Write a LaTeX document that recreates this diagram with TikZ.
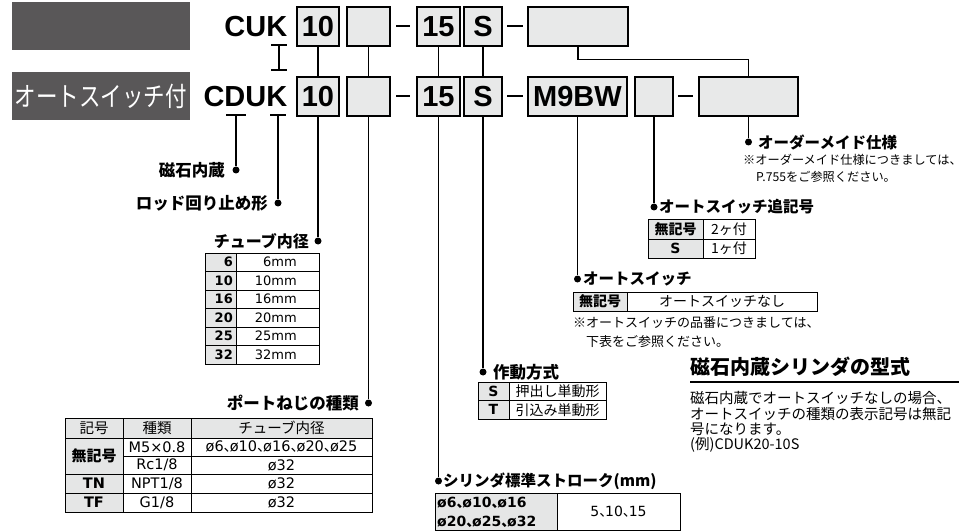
\documentclass[tikz,border=0pt]{standalone}
\usepackage{fontspec}
\setmainfont{DejaVu Sans}
\newfontfamily\jp{Noto Sans CJK JP}
\newfontfamily\hv{Liberation Sans}
\definecolor{dk}{RGB}{89,87,88}
\definecolor{boxg}{RGB}{232,233,233}
\definecolor{cellg}{RGB}{229,230,230}
\newcommand\fsz[1]{\fontsize{#1}{#1}\selectfont}
\newcommand\jc{\makebox[0.42em][l]{\jp 、}}
\begin{document}
\begin{tikzpicture}[x=1pt,y=-1pt,
  codebox/.style={draw=black, line width=1.3pt, fill=boxg, inner sep=0pt, minimum height=39pt, font={\hv\bfseries\fsz{29}}},
  hdrbox/.style={fill=dk, inner sep=0pt, text=white, font={\jp\fsz{21.5}}},
  conn/.style={line width=1.1pt},
  hyph/.style={line width=2.8pt},
  dot/.style={circle, fill=black, inner sep=0pt, minimum size=7pt},
  tx/.style={inner sep=0pt},
  lbl/.style={inner sep=0pt, font={\jp\bfseries\fsz{16.5}}},
  rlbl/.style={inner sep=0pt, font={\jp\bfseries\fsz{15.5}}},
  note/.style={inner sep=0pt, font={\jp\fsz{12.5}}},
  tline/.style={line width=0.7pt},
  touter/.style={line width=1pt},
]
\useasboundingbox (0,0) rectangle (970,532);
\fill[white] (0,0) rectangle (970,532);

% header blocks
\node[hdrbox, minimum width=178pt, minimum height=48pt] (hdr1) at (101,26) {};
\node[hdrbox, minimum width=178pt, minimum height=48pt] (hdr2) at (101,96) {\scalebox{1}[1.25]{オートスイッチ付}};

% codes
\node[tx, anchor=base east, font={\hv\bfseries\fsz{29}}] (cuk) at (287.5,37) {CUK};
\node[tx, anchor=base east, font={\hv\bfseries\fsz{29}}] (cduk) at (287.5,107) {CDUK};

% row 1 boxes
\node[codebox, minimum width=42pt] (a10) at (318,26.5) {10};
\node[codebox, minimum width=43pt] (ae) at (368.5,26.5) {};
\node[codebox, minimum width=43pt] (a15) at (438.5,26.5) {15};
\node[codebox, minimum width=38pt] (aS) at (483,26.5) {S};
\node[codebox, minimum width=100pt] (aX) at (578,26.5) {};
% row 2 boxes
\node[codebox, minimum width=42pt] (b10) at (318,96.5) {10};
\node[codebox, minimum width=43pt] (be) at (368.5,96.5) {};
\node[codebox, minimum width=43pt] (b15) at (438.5,96.5) {15};
\node[codebox, minimum width=38pt] (bS) at (483,96.5) {S};
\node[codebox, minimum width=99pt] (bM) at (577.5,96.5) {M9BW};
\node[codebox, minimum width=38pt] (bSm) at (654,96.5) {};
\node[codebox, minimum width=99pt] (bL) at (748.5,96.5) {};

% hyphens
\coordinate (h1a) at (396,26); \coordinate (h1b) at (410,26);
\coordinate (h2a) at (507,26); \coordinate (h2b) at (523,26);
\coordinate (h3a) at (396,96); \coordinate (h3b) at (410,96);
\coordinate (h4a) at (507,96); \coordinate (h4b) at (523,96);
\coordinate (h5a) at (678,96); \coordinate (h5b) at (693,96);
\foreach \hh in {1,...,5} {\draw[hyph] (h\hh a) -- (h\hh b);}

% links between rows
\coordinate (kt) at (279,45); \coordinate (kb) at (279,70);
\draw[conn] (kt) -- (kb);
\draw[conn] ([xshift=-8pt]kt) -- ([xshift=8pt]kt);
\draw[conn] ([xshift=-8pt]kb) -- ([xshift=8pt]kb);
\draw[conn] (a10.south) -- (b10.north);
\draw[conn] (ae.south) -- (be.north);
\draw[conn] (a15.south) -- (b15.north);
\draw[conn] (aS.south) -- (bS.north);
\draw[conn] (aX.south) -- ++(0,13) -| (bL.north);

% dots
\node[dot] (dMag) at (236,170) {};
\node[dot] (dRod) at (278,203) {};
\node[dot] (dTube) at (318,241) {};
\node[dot] (dPort) at (368.5,403) {};
\node[dot] (dStroke) at (438.5,481) {};
\node[dot] (dAct) at (483,372) {};
\node[dot] (dSw) at (577.5,279) {};
\node[dot] (dSfx) at (654,207) {};
\node[dot] (dMade) at (748.5,142) {};

% below CDUK
\coordinate (dd) at (236,115);
\draw[conn] ([xshift=-10pt]dd) -- ([xshift=10pt]dd);
\draw[conn] (dd) -- (dMag);
\coordinate (kk) at (278,115);
\draw[conn] ([xshift=-8pt]kk) -- ([xshift=8pt]kk);
\draw[conn] (kk) -- (dRod);
\draw[conn] (b10.south) -- (dTube);
\draw[conn] (be.south) -- (dPort);
\draw[conn] (b15.south) -- (dStroke);
\draw[conn] (bS.south) -- (dAct);
\draw[conn] (bM.south) -- (dSw);
\draw[conn] (bSm.south) -- (dSfx);
\draw[conn] (bL.south) -- (dMade);

% labels
\node[lbl, anchor=east] (tMag) at (225,170) {磁石内蔵};
\node[lbl, anchor=east] (tRod) at (268,203) {ロッド回り止め形};
\node[lbl, anchor=east, font={\jp\bfseries\fsz{16}}] (tTube) at (309,241) {チューブ内径};
\node[lbl, anchor=east] (tPort) at (359,403) {ポートねじの種類};
\node[rlbl, anchor=west] (tStroke) at (443,481) {シリンダ標準ストローク(mm)};
\node[lbl, anchor=west] (tAct) at (493,372) {作動方式};
\node[rlbl, anchor=west] (tSw) at (583,279) {オートスイッチ};
\node[rlbl, anchor=west] (tSfx) at (659,207) {オートスイッチ追記号};
\node[rlbl, anchor=west] (tMade) at (758,142) {オーダーメイド仕様};

% notes
\node[note, anchor=west, font={\jp\fsz{12.2}}] (nMade1) at (743,160) {※オーダーメイド仕様につきましては、};
\node[note, anchor=west, font={\jp\fsz{12.2}}] (nMade2) at (756,177) {P.755をご参照ください。};
\node[note, anchor=west, font={\jp\fsz{13}}] (nSw1) at (573,323) {※オートスイッチの品番につきましては、};
\node[note, anchor=west, font={\jp\fsz{13}}] (nSw2) at (586,342) {下表をご参照ください。};

% tube table
\fill[cellg] (205,253) rectangle (236,364);
\draw[touter] (205,253) rectangle (319,364);
\draw[tline] (236,253) -- (236,364);
\foreach \k in {1,...,5} {\draw[tline] (205,253+18.5*\k) -- (319,253+18.5*\k);}
\foreach \val [count=\i] in {6,10,16,20,25,32} {
  \node[tx, anchor=east, font={\bfseries\fsz{13}}] (tubek\i) at (233,253+18.5*\i-9.25) {\val};
  \node[tx, anchor=east, font={\fsz{13}}] (tubev\i) at (297,253+18.5*\i-9.25) {\val mm};
}

% port table
\fill[cellg] (65,418) rectangle (372,438);
\fill[cellg] (65,438) rectangle (123,512);
\draw[touter] (65,418) rectangle (372,512);
\draw[tline] (123,418) -- (123,512);
\draw[tline] (191,418) -- (191,512);
\draw[tline] (65,438) -- (372,438);
\draw[tline] (123,456) -- (372,456);
\draw[tline] (65,474) -- (372,474);
\draw[tline] (65,493) -- (372,493);
\node[tx, font={\jp\fsz{14.5}}] (ph1) at (94,428) {記号};
\node[tx, font={\jp\fsz{14.5}}] (ph2) at (157,428) {種類};
\node[tx, font={\jp\fsz{14.5}}] (ph3) at (281.5,428) {チューブ内径};
\node[tx, font={\jp\bfseries\fsz{15}}] (pk1) at (94,456) {無記号};
\node[tx, font={\fsz{14.5}}] (pt1) at (157,447) {M5×0.8};
\node[tx, font={\fsz{14.5}}] (pd1) at (281.5,447) {ø6\jc ø10\jc ø16\jc ø20\jc ø25};
\node[tx, font={\fsz{14.5}}] (pt2) at (157,465) {Rc1/8};
\node[tx, font={\fsz{14.5}}] (pd2) at (281.5,465) {ø32};
\node[tx, font={\bfseries\fsz{14.5}}] (pk3) at (94,483.5) {TN};
\node[tx, font={\fsz{14.5}}] (pt3) at (157,483.5) {NPT1/8};
\node[tx, font={\fsz{14.5}}] (pd3) at (281.5,483.5) {ø32};
\node[tx, font={\bfseries\fsz{14.5}}] (pk4) at (94,502.5) {TF};
\node[tx, font={\fsz{14.5}}] (pt4) at (157,502.5) {G1/8};
\node[tx, font={\fsz{14.5}}] (pd4) at (281.5,502.5) {ø32};

% action table
\fill[cellg] (478,382) rectangle (509,419);
\draw[touter] (478,382) rectangle (606,419);
\draw[tline] (509,382) -- (509,419);
\draw[tline] (478,400.5) -- (606,400.5);
\node[tx, font={\bfseries\fsz{14}}] (ak1) at (493.5,391.25) {S};
\node[tx, font={\bfseries\fsz{14}}] (ak2) at (493.5,409.75) {T};
\node[tx, font={\jp\fsz{14}}] (av1) at (557.5,391.25) {押出し単動形};
\node[tx, font={\jp\fsz{14}}] (av2) at (557.5,409.75) {引込み単動形};

% stroke table
\fill[cellg] (435,493) rectangle (557,530);
\draw[touter] (435,493) rectangle (680,530);
\draw[tline] (557,493) -- (557,530);
\node[tx, anchor=west, font={\bfseries\fsz{14}}] (sk1) at (437,503) {ø6\jc ø10\jc ø16};
\node[tx, anchor=west, font={\bfseries\fsz{14}}] (sk2) at (437,521.5) {ø20\jc ø25\jc ø32};
\node[tx, font={\fsz{14}}] (sv) at (618.5,511.5) {5\jc 10\jc 15};

% suffix table
\fill[cellg] (648,220) rectangle (703,258);
\draw[touter] (648,220) rectangle (755,258);
\draw[tline] (703,220) -- (703,258);
\draw[tline] (648,239) -- (755,239);
\node[tx, font={\jp\bfseries\fsz{14}}] (fk1) at (675.5,229.5) {無記号};
\node[tx, font={\bfseries\fsz{14}}] (fk2) at (675.5,248.5) {S};
\node[tx, font={\jp\fsz{14}}] (fv1) at (729,229.5) {2ヶ付};
\node[tx, font={\jp\fsz{14}}] (fv2) at (729,248.5) {1ヶ付};

% switch table
\fill[cellg] (573,292) rectangle (627,311);
\draw[touter] (573,292) rectangle (817,311);
\draw[tline] (627,292) -- (627,311);
\node[tx, font={\jp\bfseries\fsz{14}}] (wk1) at (600,301.5) {無記号};
\node[tx, font={\jp\fsz{14}}] (wv1) at (722,301.5) {オートスイッチなし};

% side note
\node[tx, anchor=west, font={\jp\bfseries\fsz{20}}] (title) at (690,367) {磁石内蔵シリンダの型式};
\coordinate (ulA) at (690,382); \coordinate (ulB) at (959,382);
\draw[line width=1.5pt] (ulA) -- (ulB);
\node[tx, anchor=west, font={\jp\fsz{14.5}}] (body1) at (690,398) {磁石内蔵でオートスイッチなしの場合、};
\node[tx, anchor=west, font={\jp\fsz{14.5}}] (body2) at (690,414) {オートスイッチの種類の表示記号は無記};
\node[tx, anchor=west, font={\jp\fsz{14.5}}] (body3) at (690,429.5) {号になります。};
\node[tx, anchor=west, font={\jp\fsz{14.5}}] (body4) at (690,445) {(例)CDUK20-10S};
\end{tikzpicture}
\end{document}
